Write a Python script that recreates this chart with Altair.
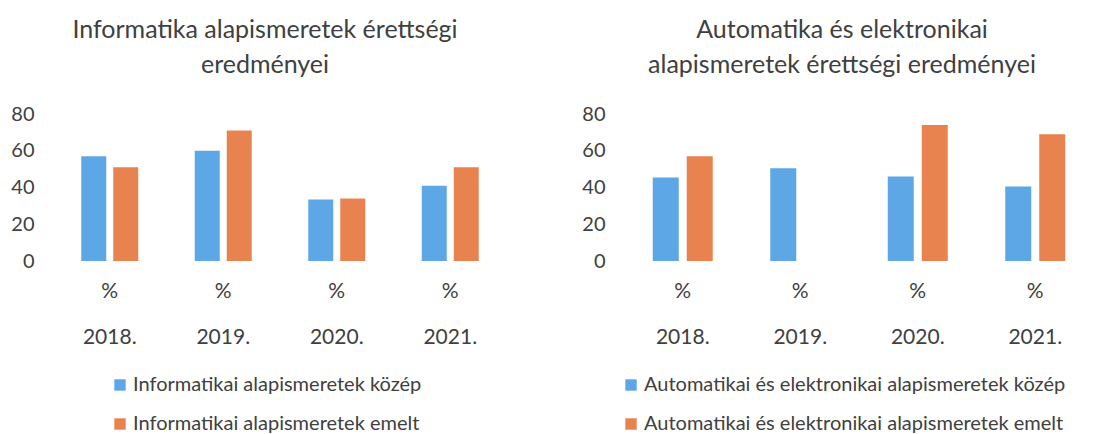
import altair as alt
import pandas as pd

years = ["2018.", "2019.", "2020.", "2021."]

left_title = ["Informatika alapismeretek érettségi", "eredményei"]
left_series = ["Informatikai alapismeretek közép", "Informatikai alapismeretek emelt"]
left_kozep = [57, 60, 33.5, 41]
left_emelt = [51, 71, 34, 51]

right_title = ["Automatika és elektronikai", "alapismeretek érettségi eredményei"]
right_series = ["Automatikai és elektronikai alapismeretek közép",
                "Automatikai és elektronikai alapismeretek emelt"]
right_kozep = [45.5, 50.5, 46, 40.5]
right_emelt = [57, None, 74, 69]

BLUE = "#5ea7e6"
ORANGE = "#e8834f"
TXT = "#404040"
FONT = "Lato"


def frame(series, kozep, emelt):
    rows = []
    for i, y in enumerate(years):
        rows.append({"year": y, "series": series[0], "value": kozep[i]})
        if emelt[i] is not None:
            rows.append({"year": y, "series": series[1], "value": emelt[i]})
    return pd.DataFrame(rows)


def panel(title, series, kozep, emelt, width, p_in, p_out, legend_x, title_dx):
    df = frame(series, kozep, emelt)
    return alt.Chart(df).mark_bar().encode(
        x=alt.X("year:N", sort=years,
                scale=alt.Scale(paddingInner=0, paddingOuter=0),
                axis=alt.Axis(title=None, domain=False, ticks=False, labelAngle=0,
                              labelExpr="['%', datum.label]", labelLineHeight=46,
                              labelPadding=19, labelFontSize=21, labelColor=TXT,
                              labelFont=FONT)),
        xOffset=alt.XOffset("series:N", sort=series,
                            scale=alt.Scale(domain=series, paddingInner=p_in, paddingOuter=p_out)),
        y=alt.Y("value:Q", scale=alt.Scale(domain=[0, 80]),
                axis=alt.Axis(title=None, domain=False, ticks=False, grid=False,
                              values=[0, 20, 40, 60, 80], labelPadding=19,
                              labelFontSize=20, labelColor=TXT, labelFont=FONT)),
        color=alt.Color("series:N", sort=series,
                        scale=alt.Scale(domain=series, range=[BLUE, ORANGE]),
                        legend=alt.Legend(title=None, orient="none", legendX=legend_x,
                                          legendY=261, direction="vertical",
                                          symbolType="square", symbolSize=130,
                                          symbolStrokeWidth=0, labelFontSize=20,
                                          labelColor=TXT, labelFont=FONT,
                                          labelOffset=3, rowPadding=19,
                                          labelLimit=600)),
    ).properties(
        width=width, height=147,
        title=alt.TitleParams(text=title, fontSize=25, font=FONT, fontWeight="normal",
                              color=TXT, lineHeight=35, anchor="middle", dx=title_dx,
                              offset=26),
    )


left = panel(left_title, left_series, left_kozep, left_emelt, 454, 0.219, 0.883, 57, -15)
right = panel(right_title, right_series, right_kozep, right_emelt, 470, 0.235, 0.846, -3, -17)

chart = alt.hconcat(left, right, spacing=74).resolve_scale(
    color="independent", x="independent", xOffset="independent"
).resolve_legend(color="independent").configure_view(stroke=None).properties(
    padding={"left": 2, "top": 10, "right": 0, "bottom": 0}
)

chart.save("out.html", embed_options={"renderer": "svg", "actions": False})
